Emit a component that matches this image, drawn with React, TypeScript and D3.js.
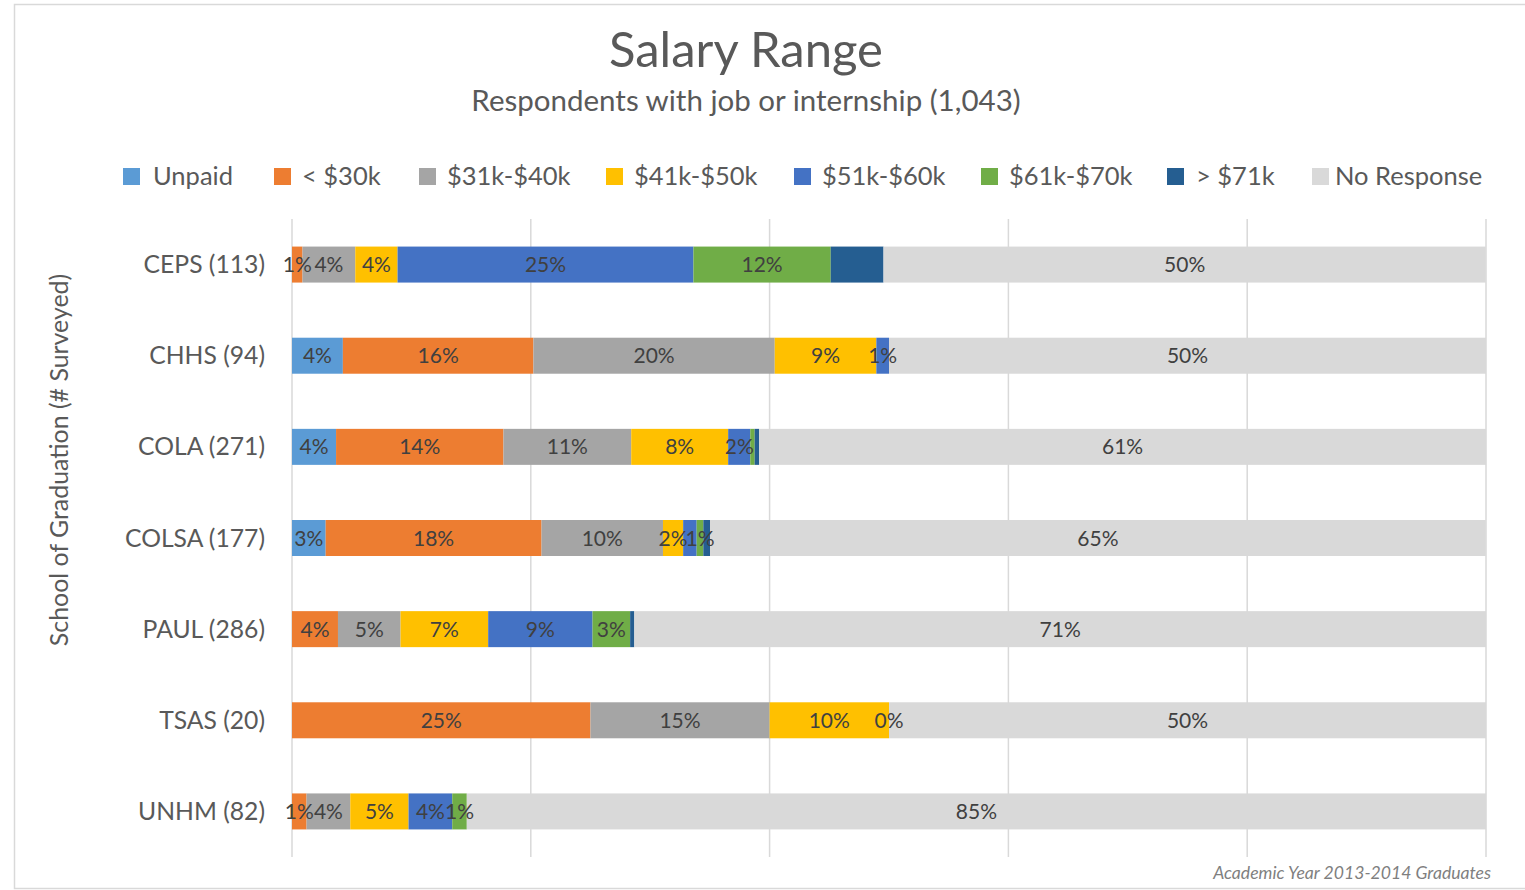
import React from "react";
import * as d3 from "d3";

const schools = ["CEPS (113)", "CHHS (94)", "COLA (271)", "COLSA (177)", "PAUL (286)", "TSAS (20)", "UNHM (82)"];
const seriesNames = ["Unpaid", "< $30k", "$31k-$40k", "$41k-$50k", "$51k-$60k", "$61k-$70k", "> $71k", "No Response"];
const unpaid = [0, 4.26, 3.69, 2.82, 0, 0, 0];
const under30 = [0.88, 15.96, 14.02, 18.08, 3.85, 25, 1.22];
const k31to40 = [4.42, 20.21, 10.7, 10.17, 5.24, 15, 3.66];
const k41to50 = [3.54, 8.51, 8.12, 1.69, 7.34, 10, 4.88];
const k51to60 = [24.78, 1.06, 1.85, 1.13, 8.74, 0, 3.66];
const k61to70 = [11.5, 0, 0.37, 0.56, 3.15, 0, 1.22];
const over71 = [4.42, 0, 0.37, 0.56, 0.35, 0, 0];
const noResponse = [50.44, 50.0, 60.89, 64.97, 71.33, 50, 85.37];
const seriesValues = [unpaid, under30, k31to40, k41to50, k51to60, k61to70, over71, noResponse];
const colors = ["#5B9BD5", "#ED7D31", "#A5A5A5", "#FFC000", "#4472C4", "#70AD47", "#255E91", "#D9D9D9"];
// labels not shown in the reference
const hiddenLabels = [
  ["CEPS (113)", "> $71k"],
  ["COLA (271)", "$61k-$70k"],
  ["COLA (271)", "> $71k"],
  ["COLSA (177)", "$51k-$60k"],
  ["COLSA (177)", "> $71k"],
  ["PAUL (286)", "> $71k"],
];
// zero-valued labels that are shown
const zeroLabels = [["TSAS (20)", "$51k-$60k"]];
const xTicks = [0, 20, 40, 60, 80, 100];

const legendX = [123, 274, 419, 606, 794, 981, 1167, 1312];
const legendTextX = [153, 302, 447, 634, 822, 1009, 1196, 1335];

const FONT = "Lato, 'Open Sans', sans-serif";

export default function App() {
  const x = d3.scaleLinear().domain([0, 100]).range([292, 1486]);
  const y = d3.scaleBand<string>().domain(schools).range([219, 857]).paddingInner(0.605).paddingOuter(0.3025);
  const fmt = d3.format(".0%");

  const rows = schools.map((s, i) => {
    const vals = seriesValues.map((arr) => arr[i]);
    const cums = d3.cumsum(vals);
    return vals.map((v, j) => ({
      school: s,
      series: seriesNames[j],
      j,
      v,
      x0: cums[j] - v,
      x1: cums[j],
    }));
  });

  const isHidden = (s: string, n: string) => hiddenLabels.some(([a, b]) => a === s && b === n);
  const isZeroShown = (s: string, n: string) => zeroLabels.some(([a, b]) => a === s && b === n);

  return (
    <svg width={1525} height={890} style={{ position: "absolute", left: 0, top: 0, display: "block" }} fontFamily={FONT}>
      <rect x={0} y={0} width={1525} height={890} fill="#fff" />
      <rect x={14.5} y={4.5} width={1530} height={884} fill="none" stroke="#d9d9d9" strokeWidth={1.5} />
      <text x={746} y={67} textAnchor="middle" fontSize={49} fill="#595959">Salary Range</text>
      <text x={746} y={111} textAnchor="middle" fontSize={29.5} fill="#595959">Respondents with job or internship (1,043)</text>

      {seriesNames.map((n, j) => (
        <g key={n}>
          <rect x={legendX[j]} y={168} width={17} height={17} fill={colors[j]} />
          <text x={legendTextX[j]} y={185} fontSize={25.5} fill="#595959">{n}</text>
        </g>
      ))}

      {xTicks.map((t) => (
        <line key={t} x1={x(t)} x2={x(t)} y1={219} y2={857} stroke="#d9d9d9" strokeWidth={1.5} />
      ))}

      {rows.map((segs) =>
        segs.map((d) =>
          d.v > 0 ? (
            <rect key={d.school + d.series} x={x(d.x0)} y={y(d.school)!} width={x(d.x1) - x(d.x0)} height={y.bandwidth()} fill={colors[d.j]} />
          ) : null
        )
      )}

      {rows.map((segs) =>
        segs.map((d) => {
          const show = (d.v > 0 || isZeroShown(d.school, d.series)) && !isHidden(d.school, d.series);
          if (!show) return null;
          return (
            <text key={"l" + d.school + d.series} x={(x(d.x0) + x(d.x1)) / 2} y={y(d.school)! + y.bandwidth() / 2 + 7.5} textAnchor="middle" fontSize={21} fill="#404040">
              {fmt(d.v / 100)}
            </text>
          );
        })
      )}

      {schools.map((s) => (
        <text key={s} x={265} y={y(s)! + y.bandwidth() / 2 + 8.5} textAnchor="end" fontSize={24.7} fill="#595959">{s}</text>
      ))}

      <text transform={`translate(68,460) rotate(-90)`} textAnchor="middle" fontSize={24.9} fill="#595959">School of Graduation (# Surveyed)</text>

      <text x={1491} y={879} textAnchor="end" fontSize={17.6} fontStyle="italic" fill="#7f7f7f">Academic Year 2013-2014 Graduates</text>
    </svg>
  );
}
